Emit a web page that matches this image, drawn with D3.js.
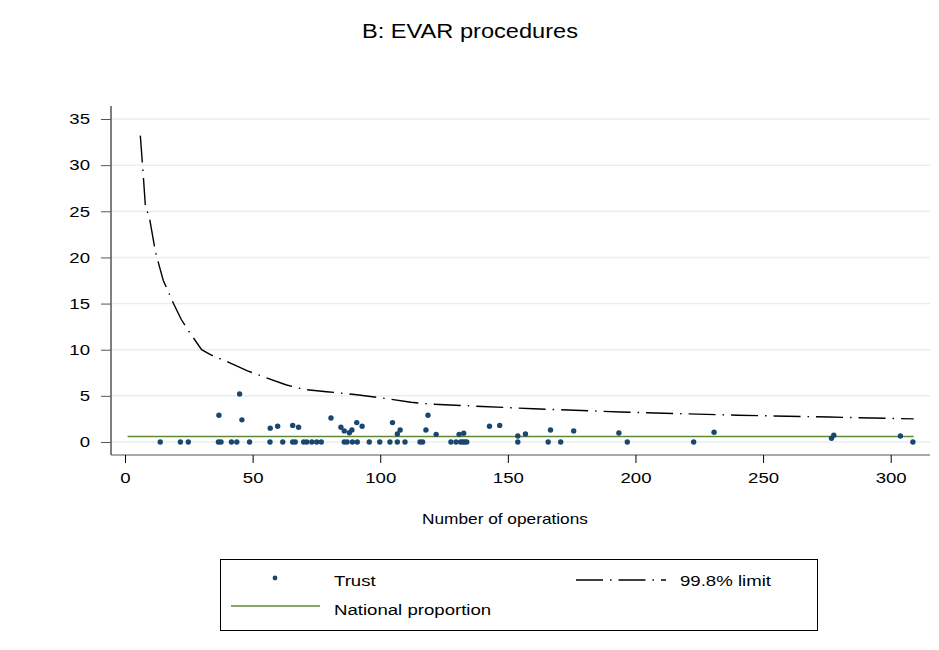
<!DOCTYPE html>
<html><head><meta charset="utf-8">
<script src="https://cdn.jsdelivr.net/npm/d3@7"></script>
<style>
body{margin:0;background:#fff}
text{font-family:"Liberation Sans",Arial,sans-serif;fill:#000}
</style>
</head><body>
<svg id="c" width="939" height="650"></svg>
<script>
// ---- data ----
const trustN = [13.8,21.7,24.8,36.6,37.6,41.7,43.8,48.8,56.8,61.8,65.7,66.7,70.0,71.2,73.2,75.1,76.9,
  85.9,87.0,89.1,91.0,95.7,99.8,103.8,106.7,109.7,115.6,116.6,127.7,129.7,131.5,132.3,133.1,133.9,
  153.9,165.8,170.7,196.8,222.8,308.7,
  36.8,44.9,45.8,56.9,59.8,65.7,68.0,80.7,84.6,85.9,87.9,88.9,90.8,92.9,104.8,106.7,107.8,117.9,118.7,
  121.9,130.9,132.7,142.8,146.8,153.9,156.9,166.7,175.8,193.5,230.8,276.8,277.7,303.8];
const trustPct = [0,0,0,0,0,0,0,0,0,0,0,0,0,0,0,0,0,
  0,0,0,0,0,0,0,0,0,0,0,0,0,0,0,0,0,
  0,0,0,0,0,0,
  2.9,5.2,2.4,1.5,1.7,1.8,1.6,2.6,1.6,1.2,1.0,1.3,2.1,1.7,2.1,0.87,1.3,1.3,2.9,
  0.83,0.83,0.94,1.7,1.8,0.65,0.87,1.3,1.2,0.97,1.05,0.4,0.73,0.65];
const limitN   = [6,7,8,9.5,12,15,19,22,25,30,34,40,48,56,63,70,79,90,100,112,120,140,160,194,240,276,309];
const limitPct = [33.2,29.5,25.5,24.4,20.5,17.5,15,13.3,12,10,9.4,8.7,7.7,6.9,6.2,5.7,5.45,5.15,4.8,4.3,4.1,3.85,3.6,3.25,2.9,2.7,2.5];
const nationalN = [1, 309];
const nationalPct = 0.6;
const xTicks = [0,50,100,150,200,250,300];
const yTicks = [0,5,10,15,20,25,30,35];
const legendLabels = ["Trust","99.8% limit","National proportion"];
const titleText = "B: EVAR procedures";
const xTitle = "Number of operations";

// ---- styles ----
const navy = "#1a476f", green = "#5f8a36", grid = "#e6eff1";
const dash = "27,7,1.5,7";
const STRETCH = 1.24;

const svg = d3.select("#c");
function stretch(sel, k){
  sel.each(function(){
    const w = this.getComputedTextLength();
    this.setAttribute("textLength", w*k);
    this.setAttribute("lengthAdjust","spacingAndGlyphs");
  });
}

const x = d3.scaleLinear().domain([-5.49, 315.4]).range([111, 930]);
const y = d3.scaleLinear().domain([-1.41, 36.41]).range([455, 106]);

// gridlines
svg.append("g").selectAll("line").data(yTicks).join("line")
  .attr("x1", 112).attr("x2", 930)
  .attr("y1", d=>y(d)).attr("y2", d=>y(d))
  .attr("stroke", grid).attr("stroke-width", 1.5);

// axes
const gy = svg.append("g").attr("transform","translate(111,0)")
  .call(d3.axisLeft(y).tickValues(yTicks).tickSize(10).tickPadding(11).tickFormat(d3.format("d")));
gy.select(".domain").attr("stroke","#000").attr("d","M0,106V455");
gy.selectAll(".tick line").attr("stroke","#555");
gy.selectAll("text").attr("font-size",15).attr("font-family","Liberation Sans, Arial, sans-serif");

const gx = svg.append("g").attr("transform","translate(0,455)")
  .call(d3.axisBottom(x).tickValues(xTicks).tickSize(8).tickPadding(9).tickFormat(d3.format("d")));
gx.select(".domain").attr("stroke","#555").attr("d","M111,0H930");
gx.selectAll(".tick line").attr("stroke","#000");
gx.selectAll("text").attr("font-size",15).attr("font-family","Liberation Sans, Arial, sans-serif");
stretch(gy.selectAll("text"), STRETCH);
stretch(gx.selectAll("text"), STRETCH);

// national proportion line
svg.append("path")
  .attr("d", d3.line().x(d=>x(d)).y(()=>y(nationalPct))(nationalN))
  .attr("fill","none").attr("stroke",green).attr("stroke-width",1.6);

// limit line
svg.append("path")
  .attr("d", d3.line().x((d,i)=>x(d)).y((d,i)=>y(limitPct[i]))(limitN))
  .attr("fill","none").attr("stroke","#000").attr("stroke-width",1.4)
  .attr("stroke-dasharray",dash);

// points
svg.append("g").selectAll("circle").data(trustN).join("circle")
  .attr("cx", d=>x(d)).attr("cy", (d,i)=>y(trustPct[i]))
  .attr("r", 2.7).attr("fill", navy);

// title
const t = svg.append("text").attr("x", 470).attr("y", 38).attr("text-anchor","middle")
  .attr("font-family","Open Sans, sans-serif").attr("font-size",20).text(titleText);
t.attr("textLength", 216).attr("lengthAdjust","spacingAndGlyphs");

// x title
const xt = svg.append("text").attr("x", 505).attr("y", 524).attr("text-anchor","middle")
  .attr("font-size",15).text(xTitle);
stretch(xt, 1.15);

// legend
const lg = svg.append("g");
lg.append("rect").attr("x",220.5).attr("y",559.5).attr("width",597).attr("height",71)
  .attr("fill","#fff").attr("stroke","#000").attr("stroke-width",1);
lg.append("circle").attr("cx",275).attr("cy",578).attr("r",2.4).attr("fill",navy);
lg.append("line").attr("x1",576).attr("x2",666).attr("y1",580).attr("y2",580)
  .attr("stroke","#000").attr("stroke-width",1.4).attr("stroke-dasharray",dash);
lg.append("line").attr("x1",231).attr("x2",320).attr("y1",606).attr("y2",606)
  .attr("stroke",green).attr("stroke-width",1.6);
const lt = lg.selectAll("text.l").data([[334,586],[680,586],[334,615]]).join("text")
  .attr("class","l").attr("x",d=>d[0]).attr("y",d=>d[1]).attr("font-size",15.5)
  .text((d,i)=>legendLabels[i]);
stretch(lt, 1.2);
</script>
</body></html>
